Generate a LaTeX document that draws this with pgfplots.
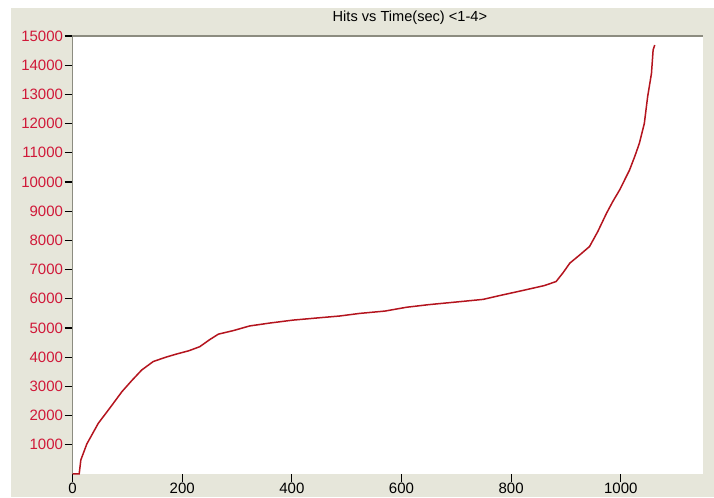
\documentclass[border=0pt]{standalone}
\usepackage{fontspec}
\setmainfont{Liberation Sans}
\usepackage{pgfplots}
\pgfplotsset{compat=1.18}
\definecolor{panel}{HTML}{E6E6DA}
\definecolor{labred}{HTML}{D01838}
\definecolor{curve}{HTML}{B4141E}
\definecolor{frame}{HTML}{8C8C80}
\begin{document}
\begin{tikzpicture}
\useasboundingbox (-36.3pt,-11.6pt) rectangle (320.7pt,237pt);
\fill[panel] (-30.8pt,-11.6pt) rectangle (320.7pt,233pt);
\begin{axis}[
  at={(0pt,0pt)}, anchor=south west,
  scale only axis, width=315.2pt, height=219pt,
  xmin=0, xmax=1150, ymin=0, ymax=15000,
  axis background/.style={fill=white},
  axis line style={draw=none},
  xtick={0,200,...,1000},
  ytick={1000,2000,...,15000},
  scaled y ticks=false, scaled x ticks=false,
  tick align=outside,
  major tick length=4pt,
  x tick style={black, line width=0.6pt},
  y tick style={black, line width=0.6pt},
  xtick pos=bottom, ytick pos=left,
  /pgf/number format/assume math mode=true,
  /pgf/number format/1000 sep={},
  tick label style={font=\fontsize{7.5}{8}\selectfont},
  yticklabel style={text=labred, inner sep=0.6pt},
  xticklabel style={text=black, inner sep=0.3pt},
  clip=false,
]
\draw[frame, line width=0.6pt] (rel axis cs:0,0) -- (rel axis cs:0,1) -- (rel axis cs:1,1);
\addplot[curve, line width=0.75pt, mark=none] coordinates {
(0,0) (12,0) (15,480) (26,1030) (47,1740) (68,2260) (90,2820) (108,3200)
(126,3560) (147,3850) (170,4000) (190,4110) (212,4220) (232,4360)
(250,4600) (266,4790) (293,4910) (323,5070) (360,5170) (402,5270)
(450,5350) (487,5410) (524,5500) (570,5580) (609,5710) (650,5800)
(700,5890) (749,5980) (779,6110) (820,6280) (860,6450) (882,6590)
(895,6900) (907,7220) (925,7500) (943,7790) (958,8300) (974,8930)
(986,9350) (998,9730) (1016,10410) (1026,10900) (1034,11330) (1043,12010)
(1049,12920) (1056,13720) (1059,14520) (1062,14690)
};
\node[font=\fontsize{7.3}{8}\selectfont, text=black] at (rel axis cs:0.535,1.041) {Hits vs Time(sec) <1-4>};
\end{axis}
\end{tikzpicture}
\end{document}
